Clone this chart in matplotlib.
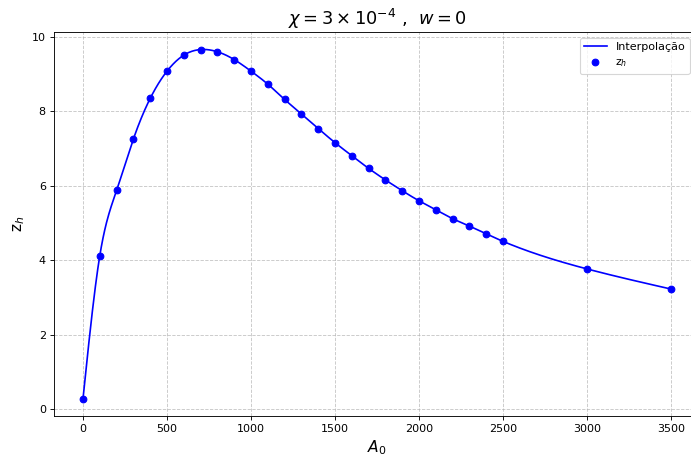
import numpy as np
import matplotlib
matplotlib.use("Agg")
import matplotlib.pyplot as plt

A0 = [0, 100, 200, 300, 400, 500, 600, 700, 800, 900, 1000, 1100, 1200, 1300,
      1400, 1500, 1600, 1700, 1800, 1900, 2000, 2100, 2200, 2300, 2400, 2500,
      3000, 3500]
zh = [0.29, 4.13, 5.88, 7.26, 8.35, 9.08, 9.51, 9.66, 9.60, 9.39, 9.08, 8.73,
      8.32, 7.93, 7.54, 7.16, 6.81, 6.47, 6.16, 5.87, 5.60, 5.36, 5.12, 4.92,
      4.71, 4.51, 3.77, 3.23]


def natural_cubic_spline(x, y, xs):
    x = np.asarray(x, float)
    y = np.asarray(y, float)
    n = len(x)
    h = np.diff(x)
    A = np.zeros((n, n))
    b = np.zeros(n)
    A[0, 0] = 1
    A[-1, -1] = 1
    for i in range(1, n - 1):
        A[i, i - 1] = h[i - 1]
        A[i, i] = 2 * (h[i - 1] + h[i])
        A[i, i + 1] = h[i]
        b[i] = 3 * ((y[i + 1] - y[i]) / h[i] - (y[i] - y[i - 1]) / h[i - 1])
    c = np.linalg.solve(A, b)
    bb = (y[1:] - y[:-1]) / h - h * (2 * c[:-1] + c[1:]) / 3
    d = (c[1:] - c[:-1]) / (3 * h)
    idx = np.clip(np.searchsorted(x, xs) - 1, 0, n - 2)
    dx = xs - x[idx]
    return y[idx] + bb[idx] * dx + c[idx] * dx ** 2 + d[idx] * dx ** 3


xs = np.linspace(A0[0], A0[-1], 1000)
ys = natural_cubic_spline(A0, zh, xs)

fig = plt.figure(figsize=(691 / 80, 461 / 80), dpi=80)
ax = fig.add_axes([0.0776, 0.0976, 0.936, 0.833])
ax.plot(xs, ys, color="blue", lw=1.5, label="Interpolação")
ax.plot(A0, zh, "o", color="blue", ms=6, label="z$_h$")
ax.set_title(r"$\chi = 3 \times 10^{-4}$ ,  $w = 0$", fontsize=16)
ax.set_xlabel(r"$A_0$", fontsize=14)
ax.set_ylabel("z$_h$", fontsize=14)
ax.set_xticks([0, 500, 1000, 1500, 2000, 2500, 3000, 3500])
ax.set_yticks([0, 2, 4, 6, 8, 10])
ax.grid(True, linestyle="--", alpha=0.7)
ax.legend(loc="upper right", bbox_to_anchor=(0.992, 1.0))
fig.savefig("out.png", dpi=80)
